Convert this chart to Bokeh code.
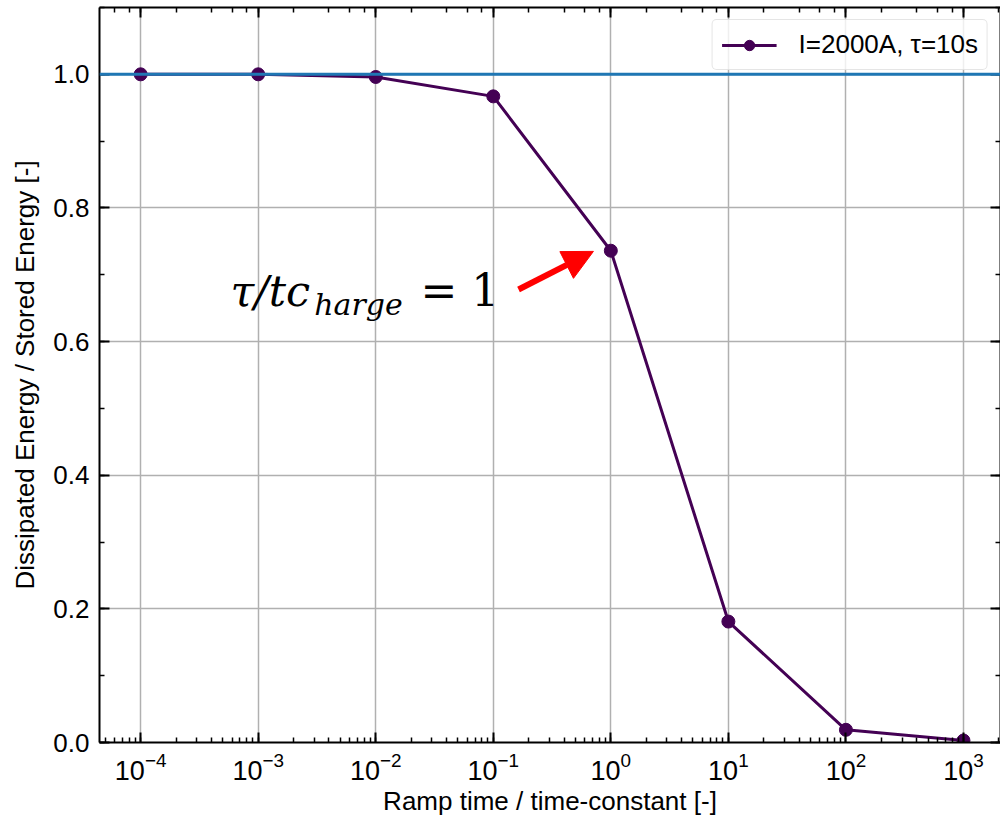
from bokeh.plotting import figure
from bokeh.models import (Range1d, LogAxis, LinearAxis, LogTicker, SingleIntervalTicker,
                          PrintfTickFormatter, Span, Arrow, NormalHead, Label, Legend, LegendItem)
from bokeh.embed import file_html
from bokeh.resources import INLINE

# ---- data ----
ramp_ratio = [1e-4, 1e-3, 1e-2, 1e-1, 1e0, 1e1, 1e2, 1e3]
energy_ratio = [1.0, 1.0, 0.996, 0.967, 0.736, 0.181, 0.019, 0.003]
series_label = "I=2000A, τ=10s"
reference_level = 1.0
x_label = "Ramp time / time-constant [-]"
y_label = "Dissipated Energy / Stored Energy [-]"

FONT = "Liberation Sans"
FS = "26px"

p = figure(width=1000, height=821, x_axis_type="log",
           x_range=Range1d(10 ** -4.35, 10 ** 3.315), y_range=Range1d(0, 1.1),
           output_backend="svg", toolbar_location=None,
           min_border_left=99, min_border_right=0, min_border_top=7, min_border_bottom=79)
p.outline_line_color = None
p.background_fill_color = "white"
p.border_fill_color = "white"

# grid
for g in (p.xgrid, p.ygrid):
    g.grid_line_color = "#b0b0b0"
    g.grid_line_width = 1.5

# y ticker
yticker = SingleIntervalTicker(interval=0.2, num_minor_ticks=2)
p.yaxis.ticker = yticker
p.yaxis.formatter = PrintfTickFormatter(format="%.1f")
p.ygrid.ticker = yticker


def style_axis(ax, show_labels=True):
    ax.axis_line_width = 2
    ax.axis_line_color = "black"
    ax.major_tick_in = 10
    ax.major_tick_out = 0
    ax.minor_tick_in = 5
    ax.minor_tick_out = 0
    ax.major_tick_line_width = 2
    ax.minor_tick_line_width = 1.5
    ax.major_tick_line_color = "black"
    ax.minor_tick_line_color = "black"
    if show_labels:
        ax.major_label_text_font = FONT
        ax.major_label_text_font_size = FS
        ax.major_label_text_color = "black"
        ax.axis_label_text_font = FONT
        ax.axis_label_text_font_size = FS
        ax.axis_label_text_font_style = "normal"
        ax.axis_label_text_color = "black"
    else:
        ax.major_label_text_font_size = "0px"
        ax.major_label_standoff = 0
        ax.major_label_text_alpha = 0


style_axis(p.xaxis[0])
style_axis(p.yaxis[0])
p.xaxis.axis_label = x_label
p.yaxis.axis_label = y_label
p.xaxis.major_label_standoff = 9
p.xaxis.major_label_text_font_size = "27px"
p.xaxis.axis_label_standoff = 3
p.yaxis.major_label_standoff = 10
p.yaxis.axis_label_standoff = 10

top_ax = LogAxis(ticker=LogTicker())
style_axis(top_ax, show_labels=False)
p.add_layout(top_ax, "above")
right_ax = LinearAxis(ticker=yticker)
style_axis(right_ax, show_labels=False)
p.add_layout(right_ax, "right")

# series
ln = p.line(ramp_ratio, energy_ratio, line_color="#440154", line_width=3)
sc = p.scatter(ramp_ratio, energy_ratio, size=13, fill_color="#440154", line_color="#440154")

# reference line (drawn above the series)
p.add_layout(Span(location=reference_level, dimension="width", line_color="#1f77b4", line_width=3))

# annotation
ann_x_main, ann_x_sub, ann_x_eq = 5.8e-4, 3.0e-3, 2.4e-2
ann_y_main, ann_y_sub = 0.676, 0.656
p.add_layout(Label(x=ann_x_main, y=ann_y_main, text="τ/tc", text_font="DejaVu Serif",
                   text_font_style="italic", text_font_size="43px", text_color="black",
                   text_baseline="alphabetic"))
p.add_layout(Label(x=ann_x_sub, y=ann_y_sub, text="harge", text_font="DejaVu Serif",
                   text_font_style="italic", text_font_size="30px", text_color="black",
                   text_baseline="alphabetic"))
p.add_layout(Label(x=ann_x_eq, y=ann_y_main, text="= 1", text_font="DejaVu Serif",
                   text_font_size="44px", text_color="black", text_baseline="alphabetic"))

arrow_start = (0.164, 0.678)
arrow_end = (0.711, 0.735)
p.add_layout(Arrow(end=NormalHead(size=30, fill_color="red", line_color="red", line_width=1),
                   x_start=arrow_start[0], y_start=arrow_start[1],
                   x_end=arrow_end[0], y_end=arrow_end[1],
                   line_color="red", line_width=6))

legend = Legend(items=[LegendItem(label=series_label, renderers=[ln, sc])],
                location="top_right")
legend.label_text_font = FONT
legend.label_text_font_size = FS
legend.label_text_color = "black"
legend.glyph_width = 55
legend.glyph_height = 26
legend.label_standoff = 22
legend.padding = 9
legend.margin = 12
legend.border_line_color = "#cccccc"
legend.border_line_width = 1.5
legend.border_radius = 5
legend.background_fill_alpha = 0.8
p.add_layout(legend)

open("out.html", "w").write(file_html(p, INLINE))
